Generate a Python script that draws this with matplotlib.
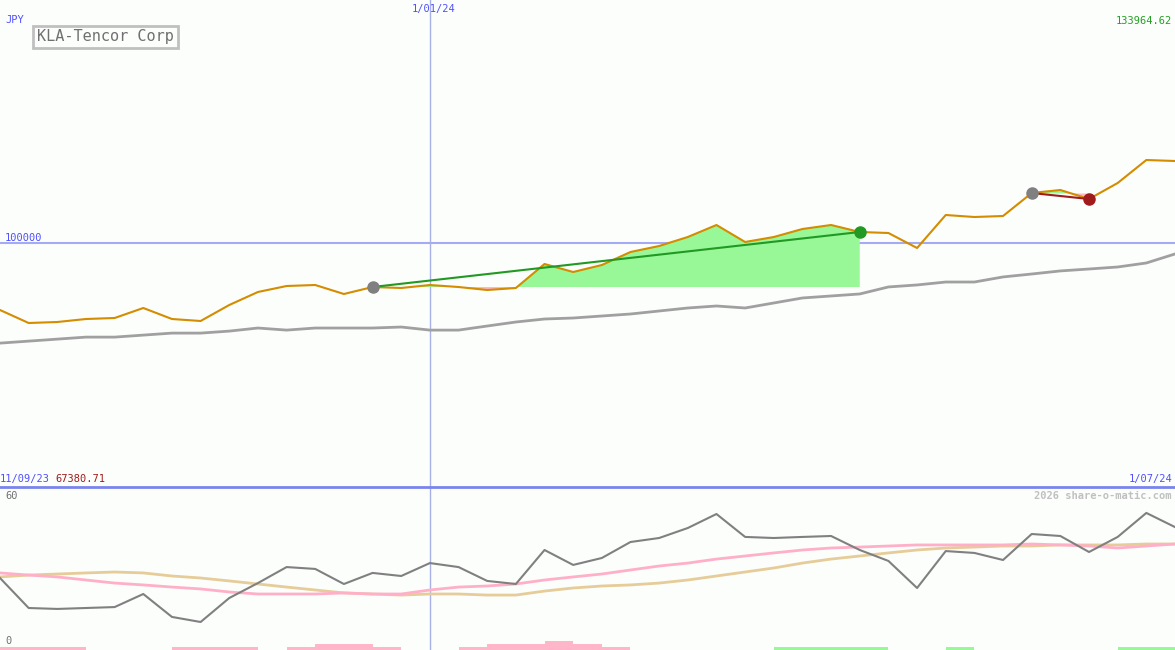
import numpy as np
import matplotlib
matplotlib.use('Agg')
from matplotlib import pyplot as plt

# price series (JPY), one value per period
price = [90639, 88822, 88962, 89381, 89521, 90919, 89381, 89101, 91338, 93155,
         93993, 94133, 92875, 93853, 93714, 94133, 93853, 93434, 93714, 97068,
         95950, 96928, 98745, 99584, 100842, 102519, 100143, 100842, 101960, 102519,
         101540, 101400, 99304, 103916, 103636, 103776, 106990, 107410, 106152, 108388,
         111603, 111463]
# moving average
ma = [86010, 86290, 86570, 86850, 86850, 87130, 87410, 87410, 87690, 88120,
      87830, 88120, 88120, 88120, 88260, 87830, 87830, 88400, 88960, 89380,
      89520, 89800, 90080, 90500, 90920, 91200, 90920, 91620, 92320, 92600,
      92880, 93860, 94140, 94550, 94550, 95260, 95670, 96100, 96370, 96650,
      97210, 98470]
# lower panel oscillator
osc = [27.0, 15.75, 15.4, 15.75, 16.1, 21.0, 12.4, 10.5, 19.5, 25.1,
       31.1, 30.4, 24.75, 28.9, 27.75, 32.6, 31.1, 25.9, 24.75, 37.5,
       31.9, 34.5, 40.5, 42.0, 45.75, 51.0, 42.4, 42.0, 42.4, 42.75,
       37.5, 33.4, 23.25, 37.1, 36.4, 33.75, 43.5, 42.75, 36.75, 42.4,
       51.4, 46.1]
osc_fast = [28.9, 28.1, 27.4, 26.25, 25.1, 24.4, 23.6, 22.9, 21.75, 21.0,
            21.0, 21.0, 21.4, 21.0, 21.0, 22.5, 23.6, 24.0, 24.75, 26.25,
            27.4, 28.5, 30.0, 31.5, 32.6, 34.1, 35.25, 36.4, 37.5, 38.25,
            38.6, 39.0, 39.4, 39.4, 39.4, 39.4, 39.75, 39.4, 39.0, 38.25,
            39.0, 39.75]
osc_slow = [27.4, 28.1, 28.5, 28.9, 29.25, 28.9, 27.75, 27.0, 25.9, 24.75,
            23.6, 22.5, 21.4, 21.0, 20.6, 21.0, 21.0, 20.6, 20.6, 22.1,
            23.25, 24.0, 24.4, 25.1, 26.25, 27.75, 29.25, 30.75, 32.6, 34.1,
            35.25, 36.4, 37.5, 38.25, 38.6, 39.0, 39.0, 39.4, 39.4, 39.4,
            39.75, 39.75]
# histogram per period (negative = pink, positive = green)
hist = [-1, -1, -1, 0, 0, 0, -1, -1, -1, 0, -1, -2, -2, -1, 0, 0, -1, -2, -2, -3,
        -2, -1, 0, 0, 0, 0, 0, 1, 1, 1, 1, 0, 0, 1, 0, 0, 0, 0, 0, 1, 1]

trades = [(13, 30, 'win'), (36, 38, 'loss')]
ymin, ymax = 65901.5, 133964.62
marker_date_idx = 15

BG = '#fcfefc'
W, H = 1175, 650

fig = plt.figure(figsize=(W / 100, H / 100), dpi=100, facecolor=BG)
ax = fig.add_axes([0, 163 / H, 1, 487 / H], facecolor=BG)
ax2 = fig.add_axes([0, 0, 1, 163 / H], facecolor=BG)
for a in (ax, ax2):
    a.set_xticks([])
    a.set_yticks([])
    for s in a.spines.values():
        s.set_visible(False)
    a.set_xlim(0, len(price) - 1)

x = np.arange(len(price))
price = np.array(price, dtype=float)

ax.set_ylim(ymin, ymax)
ax.axhline(100000, color='#a4aaf4', lw=1.5, zorder=1)
ax.axvline(marker_date_idx, color='#a8b0e8', lw=1, zorder=1)
ax.plot(x, ma, color='#a0a0a0', lw=2, zorder=2)

# trades: fills, lines, markers
for i0, i1, kind in trades:
    xs = x[i0:i1 + 1]
    ps = price[i0:i1 + 1]
    base = price[i0]
    ax.fill_between(xs, ps, base, where=ps >= base, interpolate=True,
                    color='#98f898', lw=0, zorder=2)
    ax.fill_between(xs, ps, base, where=ps < base, interpolate=True,
                    color='#ffb6c8', lw=0, zorder=2)
    lc = '#229922' if kind == 'win' else '#a01c1c'
    ax.plot([i0, i1], [price[i0], price[i1]], color=lc, lw=1.5, zorder=4)

ax.plot(x, price, color='#d48c00', lw=1.5, zorder=3)

for i0, i1, kind in trades:
    ec = '#229922' if kind == 'win' else '#a01c1c'
    ax.plot(i0, price[i0], 'o', ms=8, color='#808080', zorder=5)
    ax.plot(i1, price[i1], 'o', ms=8, color=ec, zorder=5)

# lower panel
ax2.set_ylim(0, 60 * 163 / 160)
ax2.axvline(marker_date_idx, color='#a8b0e8', lw=1, zorder=1)
ax2.plot(x, osc_slow, color='#e6cc99', lw=2, zorder=2)
ax2.plot(x, osc_fast, color='#ffb0c8', lw=2, zorder=2)
ax2.plot(x, osc, color='#808080', lw=1.5, zorder=3)
ax2.spines['top'].set_visible(True)
ax2.spines['top'].set_color('#7b84ee')
ax2.spines['top'].set_linewidth(2)

ax3 = ax2.twinx()
ax3.set_ylim(0, 163 / 3)
ax3.set_xlim(0, len(price) - 1)
ax3.axis('off')
hcol = ['#98f898' if v > 0 else '#ffb6c8' for v in hist]
ax3.bar(np.arange(len(hist)), np.abs(hist), width=1, align='edge',
        color=hcol, lw=0)

# texts
FONT = 'DejaVu Sans Mono'


def px_text(px, py, s, color, ha='left', va='center', size=7.5, **kw):
    fig.text(px / W, 1 - py / H, s, color=color, ha=ha, va=va,
             fontsize=size, family=FONT, **kw)


px_text(5, 20, 'JPY', '#5050ff')
px_text(434, 9, '1/01/24', '#5050ff', ha='center')
px_text(1172, 21, '133964.62', '#22a022', ha='right')
px_text(5, 238, '100000', '#5050ff')
px_text(0, 479, '11/09/23', '#5050ff')
px_text(55, 479, '67380.71', '#a01c1c')
px_text(1172, 479, '1/07/24', '#5050ff', ha='right')
px_text(5, 496, '60', '#707070')
px_text(5, 641, '0', '#707070')
px_text(1172, 496, '2026 share-o-matic.com', '#c0c0c0', ha='right',
        weight='bold')
px_text(37, 37, 'KLA-Tencor Corp', '#707070', size=11,
        bbox=dict(boxstyle='square,pad=0.25', fc=BG, ec='#c0c0c0', lw=2))

fig.savefig('out.png', dpi=100, facecolor=BG)
